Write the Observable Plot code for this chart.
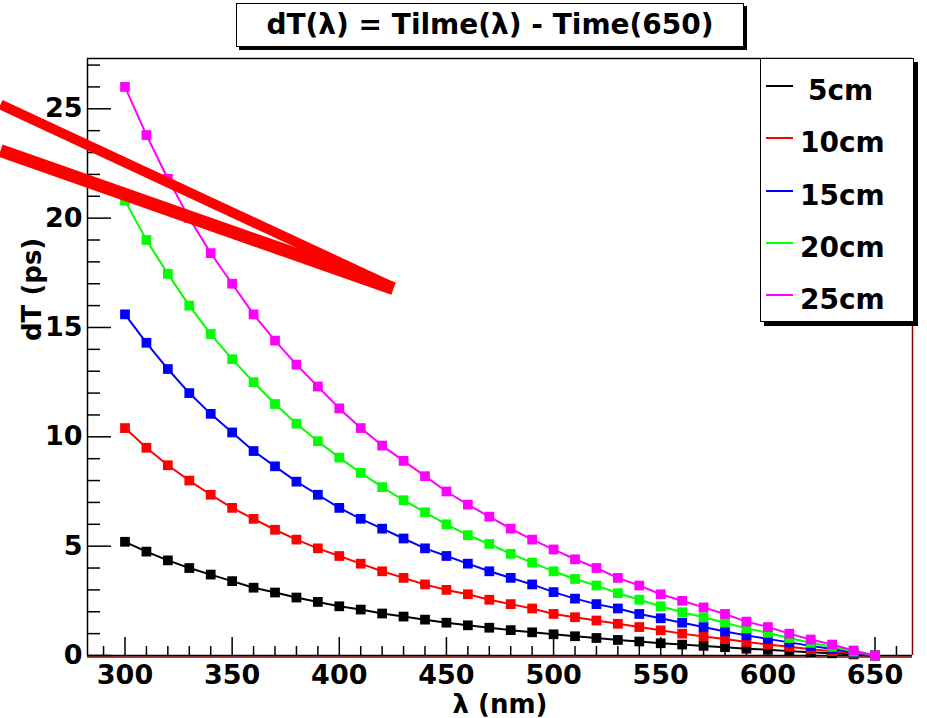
<!DOCTYPE html>
<html>
<head>
<meta charset="utf-8">
<script src="https://cdn.jsdelivr.net/npm/d3@7"></script>
<script src="https://cdn.jsdelivr.net/npm/@observablehq/plot@0.6"></script>
<style>
  html, body { margin: 0; padding: 0; background: #fff; }
  #wrap { position: relative; width: 927px; height: 718px; overflow: hidden; background: #fff;
          font-family: "DejaVu Sans", sans-serif; font-weight: bold; }
  #chart { position: absolute; left: 0; top: 0; }
  #title { position: absolute; left: 236px; top: 3px; width: 506px; height: 42px;
           border: 1.5px solid #000; box-shadow: 3px 3px 0 #000; background: #fff;
           text-align: center; font-size: 28px; line-height: 42px; white-space: nowrap; }
  #legend { position: absolute; left: 760px; top: 58px; width: 152px; height: 262px;
            border: 1.5px solid #000; box-shadow: 4px 4px 0 #000; background: #fff; }
  .lg-line { position: absolute; left: 5px; width: 27px; height: 2px; }
  .lg-text { position: absolute; font-size: 28px; line-height: 28px; white-space: nowrap; }
</style>
</head>
<body>
<div id="wrap">
  <div id="chart"></div>
  <div id="title">dT(λ) = Tilme(λ) - Time(650)</div>
  <div id="legend"></div>
</div>
<script>
// ---- data ----
const wavelengths = [300, 310, 320, 330, 340, 350, 360, 370, 380, 390, 400, 410, 420, 430, 440, 450, 460, 470,
                     480, 490, 500, 510, 520, 530, 540, 550, 560, 570, 580, 590, 600, 610, 620, 630, 640, 650];

const seriesNames = ["5cm", "10cm", "15cm", "20cm", "25cm"];
const seriesColors = ["#000000", "#ff0000", "#0000ff", "#00ff00", "#ff00ff"];

const dT_5cm  = [5.2, 4.75, 4.35, 4.0, 3.7, 3.4, 3.1, 2.88, 2.65, 2.45, 2.25, 2.1, 1.92, 1.78, 1.64, 1.5, 1.38, 1.27,
                 1.16, 1.06, 0.97, 0.88, 0.8, 0.71, 0.64, 0.56, 0.5, 0.44, 0.38, 0.31, 0.26, 0.2, 0.15, 0.1, 0.05, 0];
const dT_10cm = [10.4, 9.5, 8.7, 8.0, 7.35, 6.75, 6.25, 5.75, 5.3, 4.9, 4.55, 4.2, 3.85, 3.55, 3.25, 3.0, 2.8, 2.55,
                 2.35, 2.15, 1.9, 1.75, 1.6, 1.45, 1.3, 1.15, 1.0, 0.87, 0.75, 0.62, 0.5, 0.4, 0.29, 0.2, 0.09, 0];
const dT_15cm = [15.6, 14.3, 13.1, 12.0, 11.05, 10.2, 9.35, 8.65, 7.95, 7.35, 6.75, 6.25, 5.8, 5.35, 4.9, 4.55, 4.2, 3.85,
                 3.55, 3.25, 2.9, 2.6, 2.35, 2.15, 1.9, 1.7, 1.5, 1.3, 1.1, 0.92, 0.76, 0.6, 0.44, 0.3, 0.14, 0];
const dT_20cm = [20.8, 19.0, 17.45, 16.0, 14.7, 13.55, 12.5, 11.5, 10.6, 9.8, 9.05, 8.35, 7.7, 7.1, 6.55, 6.0, 5.5, 5.1,
                 4.65, 4.25, 3.85, 3.5, 3.2, 2.85, 2.55, 2.25, 1.98, 1.75, 1.5, 1.24, 1.04, 0.8, 0.58, 0.4, 0.18, 0];
const dT_25cm = [26.0, 23.8, 21.8, 20.0, 18.4, 17.0, 15.6, 14.4, 13.3, 12.3, 11.3, 10.4, 9.6, 8.9, 8.2, 7.5, 6.9, 6.35,
                 5.8, 5.3, 4.85, 4.4, 4.0, 3.55, 3.2, 2.8, 2.5, 2.2, 1.9, 1.55, 1.3, 1.0, 0.73, 0.5, 0.23, 0];
const seriesValues = [dT_5cm, dT_10cm, dT_15cm, dT_20cm, dT_25cm];

// axis ticks
const xMajorTicks = [300, 350, 400, 450, 500, 550, 600, 650];
const xMinorTicks = [290, 310, 320, 330, 340, 360, 370, 380, 390, 410, 420, 430, 440, 460, 470, 480, 490,
                     510, 520, 530, 540, 560, 570, 580, 590, 610, 620, 630, 640, 660];
const yMajorTicks = [0, 5, 10, 15, 20, 25];
const yMinorTicks = [1, 2, 3, 4, 6, 7, 8, 9, 11, 12, 13, 14, 16, 17, 18, 19, 21, 22, 23, 24, 26, 27];

const xDomain = [282.5, 667.5];
const yDomain = [0, 27.3];

// hand-drawn red annotation strokes (in data units)
const annotationUpper = [{x: 241.9, y: 25.2}, {x: 425.3, y: 16.83}];
const annotationLower = [{x: 241.9, y: 23.09}, {x: 425.3, y: 16.78}];

// ---- build ----
const W = 927, H = 718;
const mL = 87, mR = 15, mT = 58, mB = 63;
const pxPerX = (W - mL - mR) / (xDomain[1] - xDomain[0]);
const pxPerY = (H - mT - mB) / (yDomain[1] - yDomain[0]);

const table = seriesNames.flatMap((s, i) =>
  wavelengths.map((w, j) => ({series: s, lambda: w, dT: seriesValues[i][j]})));

const seriesMarks = seriesNames.flatMap((s) => {
  const d = table.filter(r => r.series === s);
  return [
    Plot.line(d, {x: "lambda", y: "dT", stroke: "series", strokeWidth: 2}),
    Plot.dot(d, {x: "lambda", y: "dT", fill: "series", symbol: "square", r: 5.5, stroke: null})
  ];
});

const chart = Plot.plot({
  width: W, height: H,
  marginLeft: mL, marginRight: mR, marginTop: mT, marginBottom: mB,
  style: {fontFamily: "'DejaVu Sans', sans-serif", fontWeight: "bold", fontSize: "27px", background: "white", overflow: "visible"},
  x: {domain: xDomain},
  y: {domain: yDomain},
  color: {domain: seriesNames, range: seriesColors},
  marks: [
    // frame
    Plot.ruleY([yDomain[1]], {stroke: "#000", strokeWidth: 1.5}),
    Plot.ruleX([xDomain[1]], {stroke: "#8b0000", strokeWidth: 1.5}),
    Plot.ruleY([0], {stroke: "#a00000", strokeWidth: 1.5, dy: 1.5}),
    Plot.ruleY([0], {stroke: "#000", strokeWidth: 1.5}),
    Plot.ruleX([xDomain[0]], {stroke: "#000", strokeWidth: 1.5}),
    // inward ticks
    Plot.ruleY(yMajorTicks, {x1: xDomain[0], x2: xDomain[0] + 24 / pxPerX, stroke: "#000", strokeWidth: 1.5}),
    Plot.ruleY(yMinorTicks, {x1: xDomain[0], x2: xDomain[0] + 13 / pxPerX, stroke: "#000", strokeWidth: 1.5}),
    Plot.ruleX(xMajorTicks, {y1: 0, y2: 18 / pxPerY, stroke: "#000", strokeWidth: 1.5}),
    Plot.ruleX(xMinorTicks, {y1: 0, y2: 9 / pxPerY, stroke: "#000", strokeWidth: 1.5}),
    // tick labels
    Plot.axisX(xMajorTicks, {tickSize: 0, tickPadding: 9, label: null, fontSize: 27}),
    Plot.axisY(yMajorTicks, {anchor: "left", tickSize: 0, tickPadding: 5, label: null, fontSize: 27}),
    // axis titles
    Plot.text(["λ (nm)"], {text: d => d, frameAnchor: "bottom", lineAnchor: "bottom", dy: 57, fontSize: 26}),
    Plot.text(["dT (ps)"], {text: d => d, frameAnchor: "left", rotate: -90, dx: -55, dy: -16, fontSize: 26}),
    // data
    ...seriesMarks,
    // annotation strokes
    Plot.line(annotationUpper, {x: "x", y: "y", stroke: "#ff0000", strokeWidth: 10, strokeLinecap: "butt"}),
    Plot.line(annotationLower, {x: "x", y: "y", stroke: "#ff0000", strokeWidth: 13, strokeLinecap: "butt"})
  ]
});
document.getElementById("chart").appendChild(chart);

// legend
const legend = document.getElementById("legend");
const rowY = [27, 79, 132, 184, 236];
const textLeft = [47, 39, 39, 39, 39];
seriesNames.forEach((s, i) => {
  const ln = document.createElement("div");
  ln.className = "lg-line";
  ln.style.top = (rowY[i] - 1) + "px";
  ln.style.background = seriesColors[i];
  legend.appendChild(ln);
  const tx = document.createElement("div");
  tx.className = "lg-text";
  tx.style.left = textLeft[i] + "px";
  tx.style.top = (rowY[i] - 9.5) + "px";
  tx.textContent = s;
  legend.appendChild(tx);
});
</script>
</body>
</html>
